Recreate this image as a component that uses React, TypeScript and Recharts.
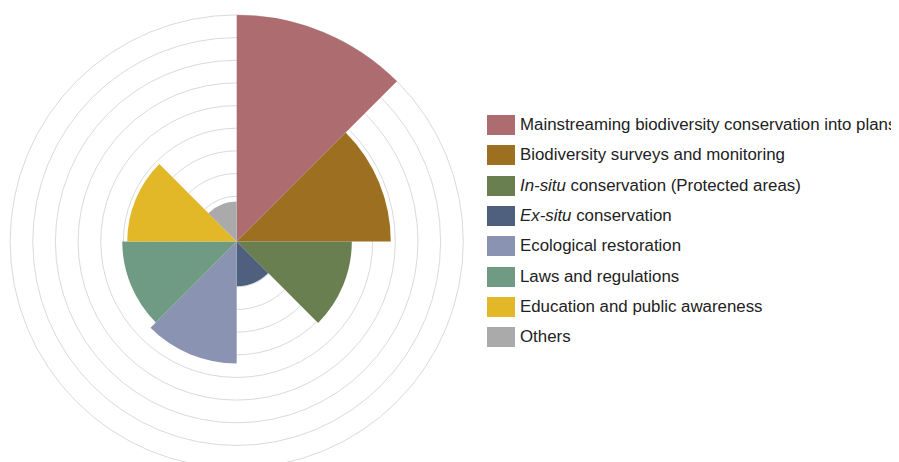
import React from "react";
import { RadialBarChart, RadialBar, PolarGrid, PolarAngleAxis, PolarRadiusAxis, Cell, Legend } from "recharts";

const categories = [
  "Mainstreaming biodiversity conservation into plans",
  "Biodiversity surveys and monitoring",
  "In-situ conservation (Protected areas)",
  "Ex-situ conservation",
  "Ecological restoration",
  "Laws and regulations",
  "Education and public awareness",
  "Others",
];
const values = [10.0, 6.8, 5.08, 1.97, 5.38, 5.05, 4.83, 1.77];
const colors = ["#ad6c6f", "#9c7020", "#6a7f50", "#4e607e", "#8a93b1", "#6f9b84", "#e2b829", "#aaaaaa"];
const italicPrefix = ["", "", "In-situ", "Ex-situ", "", "", "", ""];
const radiusTicks = [0, 1, 2, 3, 4, 5, 6, 7, 8, 9, 10];

const data = categories.map((name, i) => ({ name, value: values[i] }));

const LegendContent = () => (
  <div style={{ fontFamily: "'Liberation Sans', Arial, sans-serif", fontSize: 16.85, color: "#222" }}>
    {categories.map((c, i) => {
      const it = italicPrefix[i];
      return (
        <div key={c} style={{ display: "flex", alignItems: "center", height: 30.3, whiteSpace: "nowrap" }}>
          <div style={{ width: 28, height: 20, background: colors[i], marginRight: 5, flex: "none" }} />
          {it ? (
            <span>
              <i>{it}</i>
              {c.slice(it.length)}
            </span>
          ) : (
            <span>{c}</span>
          )}
        </div>
      );
    })}
  </div>
);

export default function App() {
  return (
    <div style={{ width: 891, height: 454, overflow: "hidden" }}>
      <RadialBarChart
        width={891}
        height={454}
        data={data}
        layout="centric"
        cx={228.7}
        cy={233.5}
        innerRadius={0}
        outerRadius={226.6}
        startAngle={45}
        endAngle={-315}
        barCategoryGap="0%"
        barGap={0}
        margin={{ top: 0, right: 0, bottom: 0, left: 0 }}
      >
        <PolarGrid gridType="circle" radialLines={false} stroke="#dadada" strokeWidth={1} />
        <PolarAngleAxis type="category" dataKey="name" tick={false} axisLine={false} tickLine={false} />
        <PolarRadiusAxis type="number" domain={[0, 10]} ticks={radiusTicks} tick={false} axisLine={false} tickLine={false} />
        <RadialBar dataKey="value" isAnimationActive={false} background={false}>
          {data.map((d, i) => (
            <Cell key={d.name} fill={colors[i]} />
          ))}
        </RadialBar>
        <Legend
          content={<LegendContent />}
          layout="vertical"
          verticalAlign="top"
          align="left"
          wrapperStyle={{ position: "absolute", left: 479, top: 102, width: 412, overflow: "hidden" }}
        />
      </RadialBarChart>
    </div>
  );
}
